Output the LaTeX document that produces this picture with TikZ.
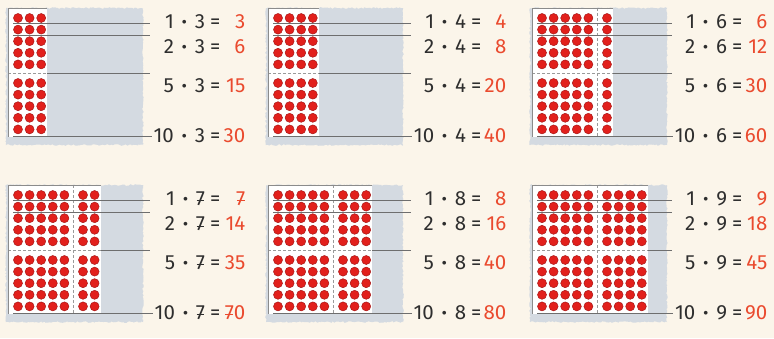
\documentclass[tikz,border=0pt]{standalone}
\usepackage{fontspec}
\setmainfont{Fira Sans}
\usetikzlibrary{decorations.pathmorphing}
\definecolor{paper}{HTML}{FBF5EA}
\definecolor{cover}{HTML}{D4DAE1}
\definecolor{dotred}{HTML}{E2201C}
\definecolor{dotrim}{HTML}{A81818}
\definecolor{resred}{HTML}{EA4A2E}
\definecolor{rulegray}{HTML}{6E6E6E}
\definecolor{ink}{HTML}{2E2E2E}
% seven with a bar
\newcommand{\sv}{\ooalign{7\cr\hidewidth\raisebox{0.34ex}{\rule{0.38em}{0.09ex}}\hidewidth\cr}}
\newcommand{\mul}[2]{#1\hspace{8pt}\textbf{·}\hspace{8pt}#2\hspace{5pt}=}

\begin{document}
\begin{tikzpicture}[x=1pt, y=-1pt,
  lhs/.style={anchor=base east, inner sep=1.5pt, text=ink, font=\fontsize{20.5}{24}\selectfont},
  rhs/.style={anchor=base east, inner sep=1.5pt, text=resred, font=\fontsize{20.5}{24}\selectfont},
  rulel/.style={rulegray, line width=0.9pt},
  frame/.style={rulegray!80, line width=0.9pt},
  divider/.style={rulegray!70, line width=0.8pt, dash pattern=on 3pt off 2pt}]
  % Page
  \fill[paper] (0,0) rectangle (774,338);
  \useasboundingbox (0,0) rectangle (774,338);
  % Panels: columns/x0/y0/text right/factor/results
  \foreach \n/\x/\y/\t/\f/\a/\b/\c/\d in {
      3/8/8/247/3/3/6/15/30,
      4/268/8/508/4/4/8/20/40,
      6/532/8/769/6/6/12/30/60,
      7/8/185/247/\sv/\sv/14/35/\sv0,
      8/268/185/508/8/8/16/40/80,
      9/532/185/769/9/9/18/45/90} {
    \pgfmathsetmacro\wr{\x+10+(\n-1)*11.6+(\n>5)*7+6}
    % Cover
    \fill[cover, decorate, decoration={random steps, segment length=1.6pt, amplitude=0.8pt}]
      (\x-2,\y) rectangle (\x+135,\y+137);
    \fill[white] (\x,\y) rectangle (\wr,\y+128.5);
    % Dots
    \foreach \i in {1,...,\n} {
      \foreach \j in {1,...,10} {
        \pgfmathsetmacro\cx{\x+10+(\i-1)*11.6+(\i>5)*7}
        \pgfmathsetmacro\cy{\y+10+(\j-1)*11.6+(\j>5)*7}
        \filldraw[fill=dotred, draw=dotrim, line width=0.5pt] (\cx,\cy) circle (4.5pt);
      }
    }
    % Dividers
    \draw[divider] (\x,\y+65.7) -- (\wr,\y+65.7);
    \ifnum\n>5
      \draw[divider] (\x+10+4*11.6+9.3,\y) -- (\x+10+4*11.6+9.3,\y+128.5);
    \fi
    % Frame
    \draw[frame] (\wr,\y) -- (\x,\y) -- (\x,\y+128.5);
    % Rows
    \node[lhs] (l1-\n) at (\t-25,\y+20) {\mul{1}{\f}};
    \node[rhs] (r1-\n) at (\t,\y+20) {\a};
    \node[lhs] (l2-\n) at (\t-25,\y+45.5) {\mul{2}{\f}};
    \node[rhs] (r2-\n) at (\t,\y+45.5) {\b};
    \node[lhs] (l5-\n) at (\t-25,\y+84) {\mul{5}{\f}};
    \node[rhs] (r5-\n) at (\t,\y+84) {\c};
    \node[lhs] (l10-\n) at (\t-25,\y+134) {\mul{10}{\f}};
    \node[rhs] (r10-\n) at (\t,\y+134) {\d};
    % Lines
    \coordinate (s1-\n) at (\x+5,\y+15.8);
    \coordinate (e1-\n) at (\t-97,\y+15.8);
    \coordinate (s2-\n) at (\x+5,\y+27.4);
    \coordinate (e2-\n) at (\t-97,\y+27.4);
    \coordinate (s5-\n) at (\wr,\y+65.7);
    \coordinate (e5-\n) at (\t-97,\y+65.7);
    \coordinate (s10-\n) at (\x+5,\y+128.5);
    \draw[rulel] (s1-\n) -- (e1-\n);
    \draw[rulel] (s2-\n) -- (e2-\n);
    \draw[rulel] (s5-\n) -- (e5-\n);
    \draw[rulel] (s10-\n) -- (l10-\n.west |- s10-\n);
  }
\end{tikzpicture}
\end{document}
